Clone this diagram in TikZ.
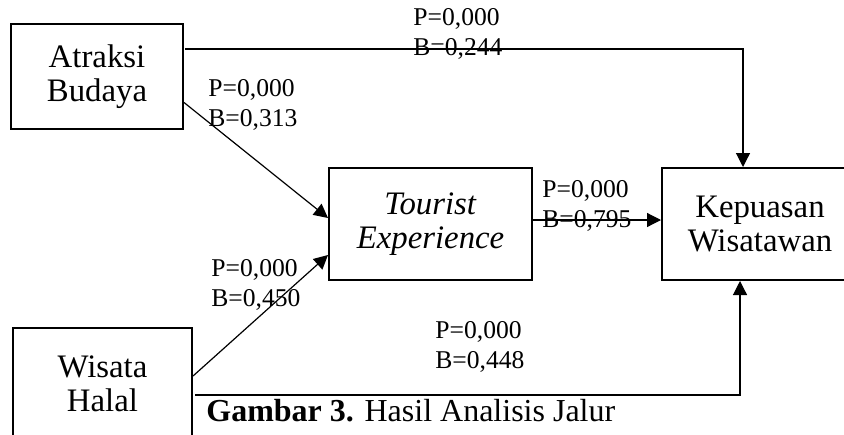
\documentclass[tikz,border=0pt]{standalone}
\usepackage{fontspec}
\setmainfont{Liberation Serif}
\usetikzlibrary{arrows.meta}

\begin{document}
\begin{tikzpicture}[x=0.5pt,y=-0.5pt,
	every node/.style={font=\fontsize{12.8}{15}\selectfont},
	varbox/.style={draw,line width=1pt,fill=white,align=center,inner sep=0pt,font=\fontsize{16.4}{17}\selectfont},
	path/.style={line width=0.6pt,-{Triangle[length=7pt,width=7pt]}},
	coef/.style={anchor=west,align=left,inner sep=0pt}]
			\clip (0,0) rectangle (844,434);
			\coordinate (pa) at (97,76.5);
			\coordinate (pw) at (102.5,384);
			\coordinate (pt) at (430.5,224);
			\coordinate (pk) at (760,224);
			
			\node (atraksi) at (pa) [varbox,minimum width=86pt,minimum height=52.5pt] {Atraksi\\Budaya};
			\node (wisata) at (pw) [varbox,minimum width=89.5pt,minimum height=56pt] {Wisata\\Halal};
			\node (tourist) at (pt) [varbox,minimum width=101.5pt,minimum height=56pt] {\textit{Tourist}\\\textit{Experience}};
			\node (kepuasan) at (pk) [varbox,minimum width=98pt,minimum height=56pt] {Kepuasan\\Wisatawan};
			
			\draw[path] ([shift={(1,-27.5)}]atraksi.east) -| ([xshift=-8.5pt]kepuasan.north);
			\draw[path] ([yshift=-13pt]atraksi.east) -- ([yshift=3pt]tourist.west);
			\draw[path] ([yshift=4pt]wisata.east) -- ([yshift=-15.5pt]tourist.west);
			\draw[path] ([yshift=2pt]tourist.east) -- ([yshift=2pt]kepuasan.west);
			\draw[path] ([shift={(2,11)}]wisata.east) -| ([xshift=-10pt]kepuasan.south);
			
			\node (c1) at (413,34) [coef] {P=0,000\\B=0,244};
			\node (c2) at (208,105) [coef] {P=0,000\\B=0,313};
			\node (c3) at (211,285) [coef] {P=0,000\\B=0,450};
			\node (c4) at (542,206) [coef] {P=0,000\\B=0,795};
			\node (c5) at (435,347) [coef] {P=0,000\\B=0,448};
			
			\node (caption) at (206,411) [coef,font=\fontsize{16}{17}\selectfont] {\textbf{Gambar 3.} Hasil Analisis Jalur};
		\end{tikzpicture}
\end{document}
